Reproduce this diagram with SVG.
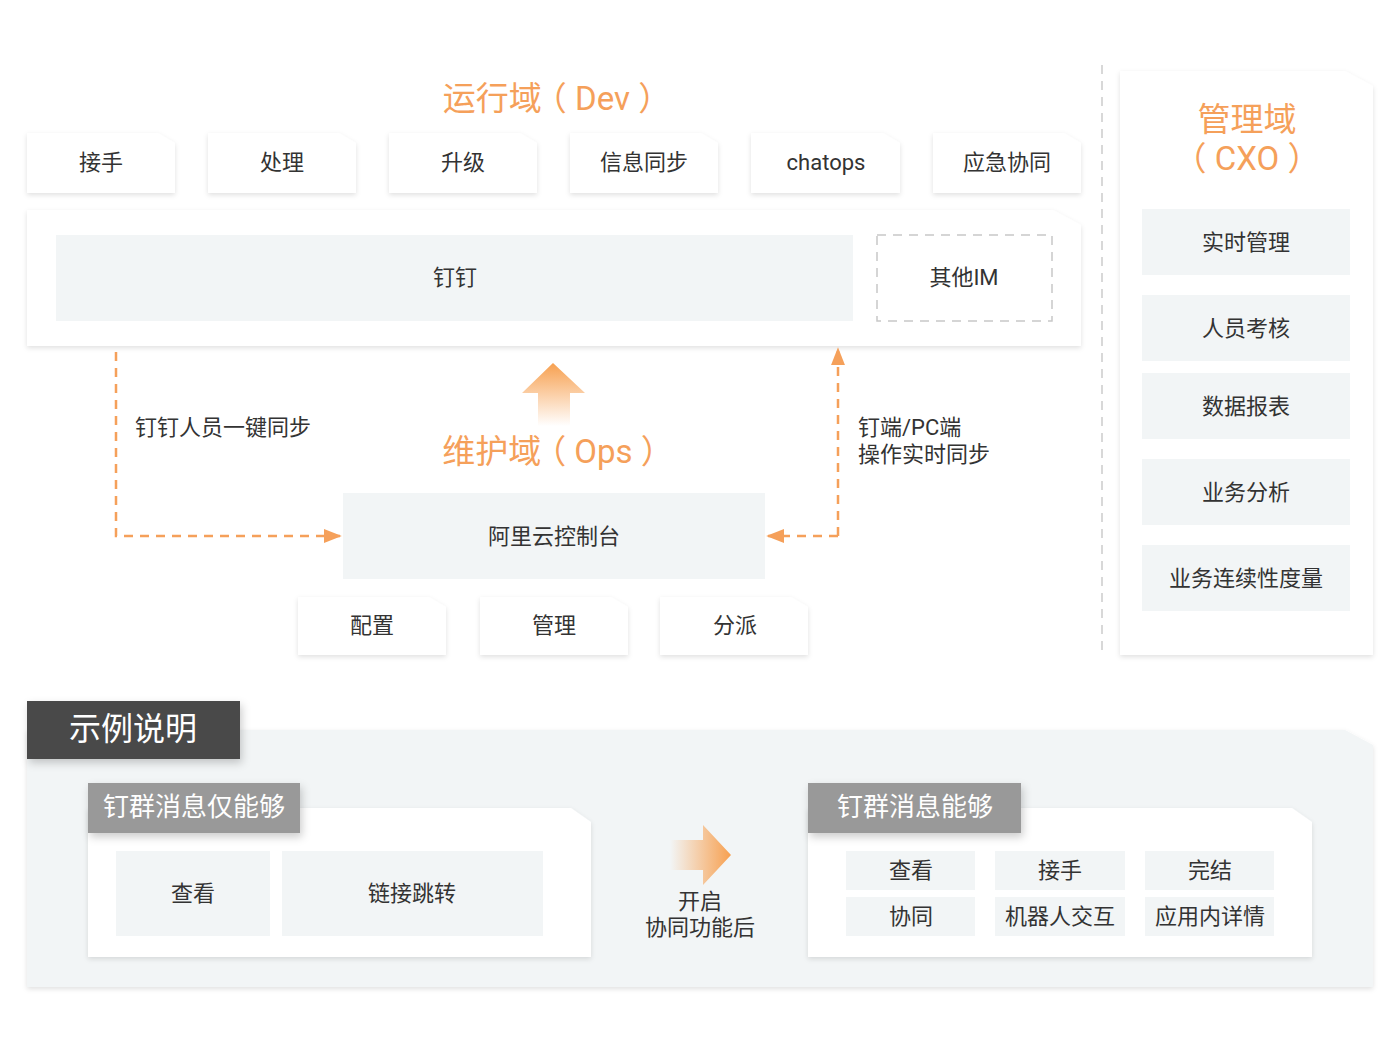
<svg xmlns="http://www.w3.org/2000/svg" width="1400" height="1050" viewBox="0 0 1400 1050">
<defs>
<style>
.t{font-family:"Roboto","Noto Sans CJK SC",sans-serif;fill:#333;text-anchor:middle;dominant-baseline:central;font-size:22px}
.o{fill:#f5a05a;font-size:33px}
.w{fill:#fff}
.card{fill:#fff;filter:url(#sh)}
.in{fill:#f2f5f6}
.dash{fill:none;stroke:#f5a05a;stroke-width:2.5;stroke-dasharray:9 7}
</style>
<filter id="sh" x="-10%" y="-10%" width="120%" height="130%">
<feDropShadow dx="0" dy="2" stdDeviation="2.5" flood-color="#000" flood-opacity="0.12"/>
</filter>
<filter id="sh2" x="-10%" y="-10%" width="130%" height="140%">
<feDropShadow dx="2" dy="4" stdDeviation="4" flood-color="#000" flood-opacity="0.2"/>
</filter>
<linearGradient id="gUp" x1="0" y1="0" x2="0" y2="1">
<stop offset="0" stop-color="#f7a050"/>
<stop offset="1" stop-color="#f7a050" stop-opacity="0"/>
</linearGradient>
<linearGradient id="gRight" x1="1" y1="0" x2="0" y2="0">
<stop offset="0" stop-color="#f7a050"/>
<stop offset="1" stop-color="#f7a050" stop-opacity="0"/>
</linearGradient>
<marker id="ah2" viewBox="0 0 10 10" refX="9" refY="5" markerWidth="18" markerHeight="14" markerUnits="userSpaceOnUse" orient="auto" preserveAspectRatio="none">
<path d="M0,0 L10,5 L0,10 Z" fill="#f5a05a"/>
</marker>
</defs>
<rect width="1400" height="1050" fill="#fff"/>

<!-- Dev title -->
<text class="t o" x="557" y="98"><tspan>运行域</tspan><tspan dx="-8">（ Dev ）</tspan></text>

<g id="dev-jieshou"><path class="card" d="M27,133 H158 L175,143 V193 H27 Z"/><text class="t" x="101" y="162">接手</text></g>
<g id="dev-chuli"><path class="card" d="M208,133 H339 L356,143 V193 H208 Z"/><text class="t" x="282" y="162">处理</text></g>
<g id="dev-shengji"><path class="card" d="M389,133 H520 L537,143 V193 H389 Z"/><text class="t" x="463" y="162">升级</text></g>
<g id="dev-xinxi"><path class="card" d="M570,133 H701 L718,143 V193 H570 Z"/><text class="t" x="644" y="162">信息同步</text></g>
<g id="dev-chatops"><path class="card" d="M751,133 H883 L900,143 V193 H751 Z"/><text class="t" x="826" y="162">chatops</text></g>
<g id="dev-yingji"><path class="card" d="M933,133 H1064 L1081,143 V193 H933 Z"/><text class="t" x="1007" y="162">应急协同</text></g>

<g id="im-panel">
<path class="card" d="M27,210 H1053 L1081,225 V346 H27 Z"/>
<g id="dingding"><rect class="in" x="56" y="235" width="797" height="86"/><text class="t" x="455" y="277">钉钉</text></g>
<g id="other-im"><rect x="877" y="235" width="175" height="86" fill="none" stroke="#c8c8c8" stroke-width="1.5" stroke-dasharray="9 7"/><text class="t" x="964" y="277">其他IM</text></g>
</g>

<!-- Ops -->
<g id="ops-arrow"><path d="M553,363 L585,393 L570,393 L570,426 L538,426 L538,393 L522,393 Z" fill="url(#gUp)"/></g>
<text class="t o" x="558" y="451"><tspan>维护域</tspan><tspan dx="-8">（ Ops ）</tspan></text>

<g id="aliyun"><rect class="in" x="343" y="493" width="422" height="86"/><text class="t" x="554" y="536">阿里云控制台</text></g>

<g id="ops-peizhi"><path class="card" d="M298,597 H429 L446,607 V655 H298 Z"/><text class="t" x="372" y="625">配置</text></g>
<g id="ops-guanli"><path class="card" d="M480,597 H611 L628,607 V655 H480 Z"/><text class="t" x="554" y="625">管理</text></g>
<g id="ops-fenpai"><path class="card" d="M660,597 H791 L808,607 V655 H660 Z"/><text class="t" x="735" y="625">分派</text></g>

<g id="connectors">
<path class="dash" d="M116,352 V536 H340" marker-end="url(#ah2)"/>
<path class="dash" d="M838,536 H768" marker-end="url(#ah2)"/>
<path class="dash" d="M838,536 V349" marker-end="url(#ah2)"/>
</g>
<text class="t" x="135" y="427" style="text-anchor:start">钉钉人员一键同步</text>
<text class="t" x="858" y="427" style="text-anchor:start">钉端/PC端</text>
<text class="t" x="858" y="454" style="text-anchor:start">操作实时同步</text>

<!-- divider -->
<line x1="1102" y1="65" x2="1102" y2="657" stroke="#ccc" stroke-width="1.5" stroke-dasharray="9 7"/>

<!-- CXO -->
<g id="cxo-panel">
<path class="card" d="M1120,71 H1345 L1373,86 V655 H1120 Z"/>
<text class="t o" x="1247" y="119">管理域</text>
<text class="t o" x="1247" y="158">（ CXO ）</text>
<g id="cxo-1"><rect class="in" x="1142" y="209" width="208" height="66"/><text class="t" x="1246" y="242">实时管理</text></g>
<g id="cxo-2"><rect class="in" x="1142" y="295" width="208" height="66"/><text class="t" x="1246" y="328">人员考核</text></g>
<g id="cxo-3"><rect class="in" x="1142" y="373" width="208" height="66"/><text class="t" x="1246" y="406">数据报表</text></g>
<g id="cxo-4"><rect class="in" x="1142" y="459" width="208" height="66"/><text class="t" x="1246" y="492">业务分析</text></g>
<g id="cxo-5"><rect class="in" x="1142" y="545" width="208" height="66"/><text class="t" x="1246" y="578">业务连续性度量</text></g>
</g>

<!-- Example section -->
<g id="example">
<path d="M27,730 H1345 L1373,745 V987 H27 Z" fill="#f2f5f6" filter="url(#sh)"/>
<g id="example-label"><rect x="27" y="701" width="213" height="58" fill="#4a4a4a" filter="url(#sh2)"/><text class="t w" x="133" y="729" style="font-size:32px">示例说明</text></g>

<g id="before">
<path class="card" d="M88,808 H571 L591,822 V957 H88 Z"/>
<rect x="88" y="783" width="212" height="50" fill="#999" filter="url(#sh2)"/>
<text class="t w" x="194" y="807" style="font-size:26px">钉群消息仅能够</text>
<g id="b-chakan"><rect class="in" x="116" y="851" width="154" height="85"/><text class="t" x="193" y="893">查看</text></g>
<g id="b-lianjie"><rect class="in" x="282" y="851" width="261" height="85"/><text class="t" x="412" y="893">链接跳转</text></g>
</g>

<g id="switch-arrow"><path d="M670,840 H703 V825 L731,855 L703,885 V870 H670 Z" fill="url(#gRight)"/></g>
<text class="t" x="700" y="901">开启</text>
<text class="t" x="700" y="927">协同功能后</text>

<g id="after">
<path class="card" d="M808,808 H1292 L1312,822 V957 H808 Z"/>
<rect x="808" y="783" width="213" height="50" fill="#999" filter="url(#sh2)"/>
<text class="t w" x="915" y="807" style="font-size:26px">钉群消息能够</text>
<g id="a-1"><rect class="in" x="846" y="851" width="129" height="39"/><text class="t" x="911" y="870">查看</text></g>
<g id="a-2"><rect class="in" x="995" y="851" width="130" height="39"/><text class="t" x="1060" y="870">接手</text></g>
<g id="a-3"><rect class="in" x="1145" y="851" width="129" height="39"/><text class="t" x="1210" y="870">完结</text></g>
<g id="a-4"><rect class="in" x="846" y="897" width="129" height="39"/><text class="t" x="911" y="916">协同</text></g>
<g id="a-5"><rect class="in" x="995" y="897" width="130" height="39"/><text class="t" x="1060" y="916">机器人交互</text></g>
<g id="a-6"><rect class="in" x="1145" y="897" width="129" height="39"/><text class="t" x="1210" y="916">应用内详情</text></g>
</g>
</g>
</svg>
